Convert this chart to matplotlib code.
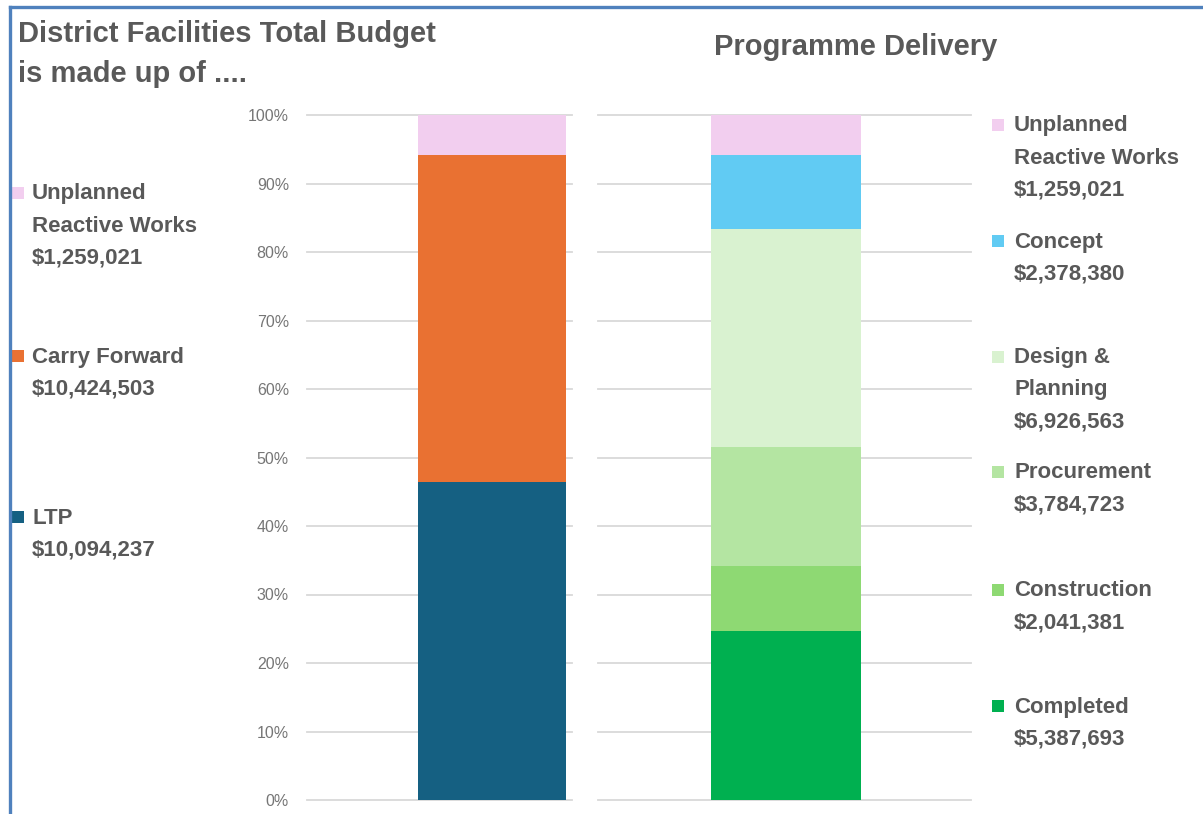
import matplotlib.pyplot as plt
from matplotlib.lines import Line2D
from matplotlib.patches import Rectangle

# left chart: what the total budget is made of
budget_names = ['LTP', 'Carry Forward', 'Unplanned\nReactive Works']
budget_values = [10094237, 10424503, 1259021]
budget_colors = ['#156082', '#E97132', '#F2CEEF']

# right chart: programme delivery stages
delivery_names = ['Completed', 'Construction', 'Procurement',
                  'Design &\nPlanning', 'Concept', 'Unplanned\nReactive Works']
delivery_values = [5387693, 2041381, 3784723, 6926563, 2378380, 1259021]
delivery_colors = ['#00B050', '#8ED973', '#B4E5A2', '#D9F2D0', '#61CBF3',
                   '#F2CEEF']

pct_ticks = [0, 10, 20, 30, 40, 50, 60, 70, 80, 90, 100]

W, H = 1203, 814
TXT = '#595959'
FONT = ['Liberation Sans', 'DejaVu Sans']
plt.rcParams['font.family'] = FONT

fig = plt.figure(figsize=(W / 100, H / 100), dpi=100)


def px(x, y):
    return x / W, 1 - y / H


def stacked(ax, values, colors, xlim):
    total = float(sum(values))
    bottom = 0.0
    for v, c in zip(values, colors):
        share = v / total
        ax.bar(0, share, width=1.0, bottom=bottom, color=c, zorder=2)
        bottom += share
    ax.set_xlim(*xlim)
    ax.set_ylim(0, 1)
    ax.set_yticks([t / 100 for t in pct_ticks])
    ax.grid(axis='y', color='#D9D9D9', lw=1.3, zorder=0)
    for gl in ax.get_ygridlines():
        gl.set_clip_on(False)
    for s in ax.spines.values():
        s.set_visible(False)
    ax.set_xticks([])
    ax.tick_params(axis='y', length=0, pad=13, labelsize=11.5,
                   labelcolor='#767676')


ax1 = fig.add_axes([307 / W, 1 - 800 / H, 265 / W, 685 / H])
stacked(ax1, budget_values, budget_colors, (-1.25, 0.54))
ax1.set_yticklabels(['%d%%' % t for t in pct_ticks])

ax2 = fig.add_axes([598 / W, 1 - 800 / H, 373 / W, 685 / H])
stacked(ax2, delivery_values, delivery_colors, (-1.253, 1.233))
ax2.set_yticklabels([])

# titles
fig.text(*px(18, 42), 'District Facilities Total Budget', fontsize=21,
         fontweight='bold', color=TXT, va='baseline', ha='left')
fig.text(*px(18, 82), 'is made up of ....', fontsize=21,
         fontweight='bold', color=TXT, va='baseline', ha='left')
fig.text(*px(856, 55), 'Programme Delivery', fontsize=21,
         fontweight='bold', color=TXT, va='baseline', ha='center')


def legend(names, values, colors, x_box, x_txt, y_starts):
    for name, v, c, y0 in zip(names, values, colors, y_starts):
        fig.add_artist(Rectangle(px(x_box, y0 + 6), 12 / W, 12 / H,
                                 transform=fig.transFigure, color=c,
                                 lw=0))
        lines = name.split('\n') + ['${:,}'.format(v)]
        for i, line in enumerate(lines):
            fig.text(*px(x_txt, y0 + 1 + 32 * i), line, fontsize=16,
                     fontweight='bold', color=TXT, va='center',
                     ha='left')


legend(budget_names, budget_values, budget_colors, 12, 32,
       [517, 356, 193])
legend(delivery_names, delivery_values, delivery_colors, 992, 1014,
       [706, 590, 472, 357, 241, 125])

# blue frame around the picture
fig.add_artist(Line2D([10 / W, 10 / W], [0, 1 - 7 / H], color='#4F81BD',
                      lw=2.4, transform=fig.transFigure))
fig.add_artist(Line2D([10 / W, 1], [1 - 7 / H, 1 - 7 / H], color='#4F81BD',
                      lw=2.4, transform=fig.transFigure))

fig.savefig('out.png', dpi=100)
